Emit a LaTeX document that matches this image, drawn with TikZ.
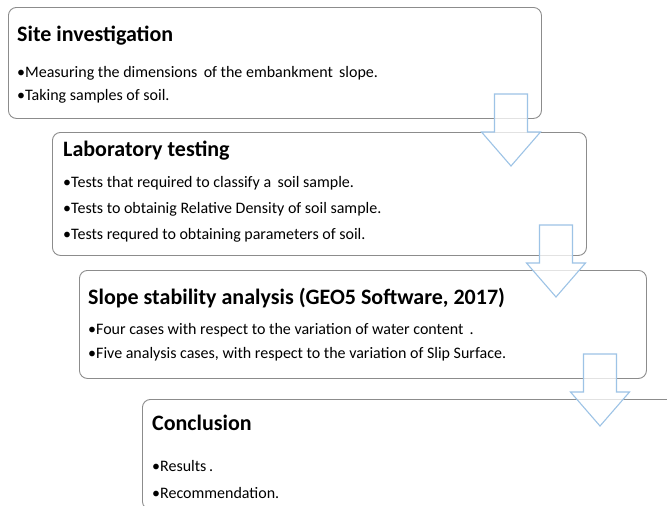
\documentclass[tikz,border=0pt]{standalone}
\usepackage{fontspec}
\setmainfont{Carlito}
\definecolor{boxgray}{HTML}{8C8C8C}
\definecolor{arrowblue}{HTML}{9DC3E6}
\begin{document}
\begin{tikzpicture}[x=1pt,y=-1pt,
  stagebox/.style={draw=boxgray, line width=0.9pt, rounded corners=8pt, fill=white,
    anchor=north west, inner sep=0pt},
  stagetitle/.style={anchor=base west, inner sep=0pt, font=\bfseries\fontsize{22}{26}\selectfont},
  stageitem/.style={anchor=base west, inner sep=0pt, font=\fontsize{16}{19}\selectfont},
  downarrow/.pic={
    \draw[draw=arrowblue, line width=1.1pt, fill=white, fill opacity=0.75, line join=miter]
      (-16.5,0) -- (16.5,0) -- (16.5,38) -- (29.5,38) -- (0,72)
      -- (-29.5,38) -- (-16.5,38) -- cycle;
  }]
\useasboundingbox[fill=white] (0,0) rectangle (667,506);

% stage boxes
\node[stagebox, minimum width=533pt, minimum height=111pt] (site) at (8,7) {};
\node[stagebox, minimum width=534pt, minimum height=123pt] (lab) at (52,132) {};
\node[stagebox, minimum width=567pt, minimum height=108pt] (slope) at (79,270) {};
\node[stagebox, minimum width=560pt, minimum height=110pt] (concl) at (142,399) {};

% step arrows between stages
\pic at (511,94) {downarrow};
\pic at (556,225) {downarrow};
\pic at (600,354) {downarrow};

% texts
\node[stagetitle] (siteT) at (17,41) {Site investigation};
\node[stageitem] (site1) at (17,77) {•Measuring the dimensions\, of the embankment\, slope.};
\node[stageitem] (site2) at (17,100) {•Taking samples of soil.};

\node[stagetitle] (labT) at (63,156) {Laboratory testing};
\node[stageitem] (lab1) at (63,187) {•Tests that required to classify a\, soil sample.};
\node[stageitem] (lab2) at (63,213) {•Tests to obtainig Relative Density of soil sample.};
\node[stageitem] (lab3) at (63,239) {•Tests requred to obtaining parameters of soil.};

\node[stagetitle] (slopeT) at (88,304) {Slope stability analysis (GEO5 Software, 2017)};
\node[stageitem] (slope1) at (88,334) {•Four cases with respect to the variation of water content\, .};
\node[stageitem] (slope2) at (88,358) {•Five analysis cases, with respect to the variation of Slip Surface.};

\node[stagetitle] (conclT) at (152,430) {Conclusion};
\node[stageitem] (concl1) at (152,471) {•Results\,.};
\node[stageitem] (concl2) at (152,498) {•Recommendation.};
\end{tikzpicture}
\end{document}
